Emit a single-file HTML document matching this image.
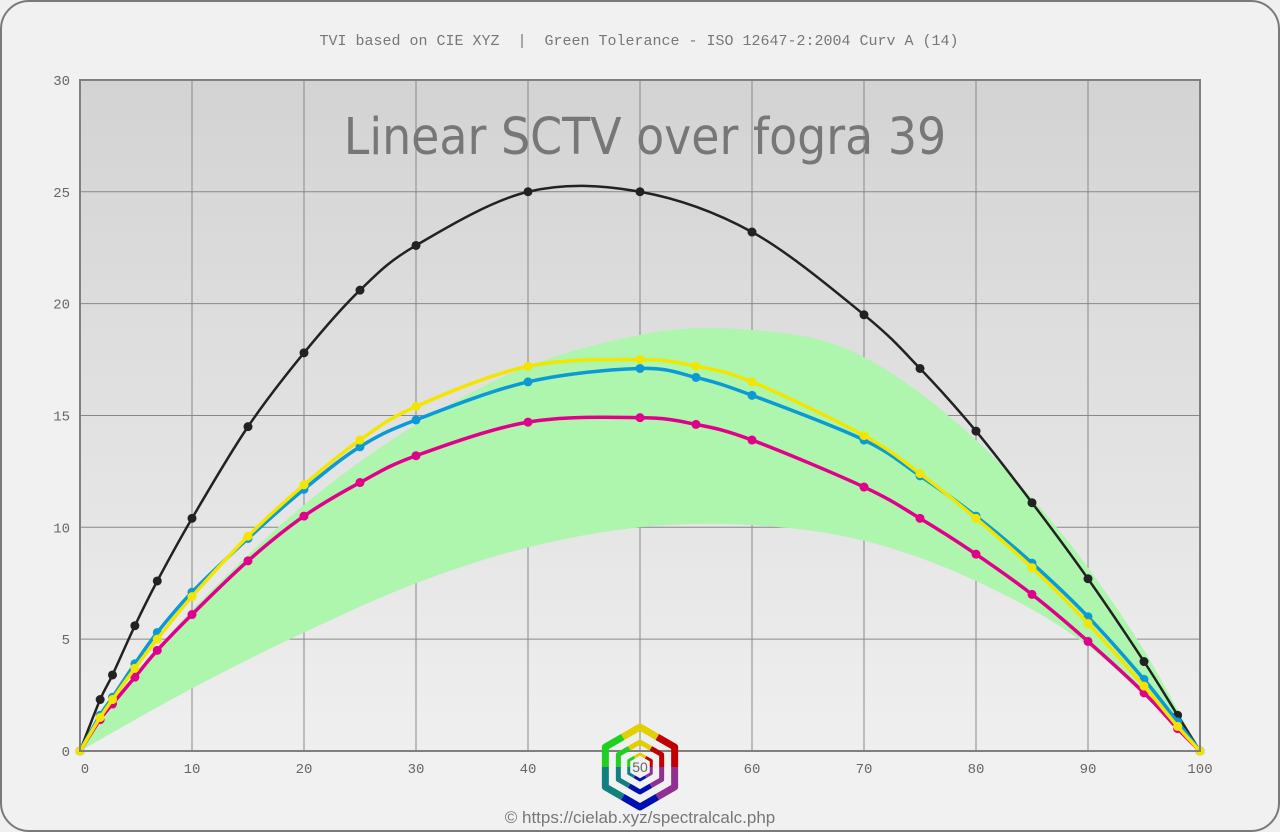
<!DOCTYPE html>
<html><head><meta charset="utf-8"><style>
html,body{margin:0;padding:0;background:#f0f0f0;}
svg{display:block}
</style></head><body>
<svg id="s" width="1280" height="832" xmlns="http://www.w3.org/2000/svg">
<defs>
<linearGradient id="bg" x1="0" y1="0" x2="0" y2="1">
<stop offset="0" stop-color="#d3d3d3"/><stop offset="1" stop-color="#efefef"/>
</linearGradient>
</defs>
<rect x="1" y="1" width="1278" height="830" rx="28" fill="#f1f1f1" stroke="#7a7a7a" stroke-width="2"/>
<text x="639" y="45" text-anchor="middle" font-family="Liberation Mono, monospace" font-size="15" fill="#777" style="white-space:pre" xml:space="preserve">TVI based on CIE XYZ  |  Green Tolerance - ISO 12647-2:2004 Curv A (14)</text>
<rect x="80" y="80" width="1120" height="671" fill="url(#bg)"/>
<g id="grid" stroke="#888" stroke-width="1"></g>
<g id="data"></g>
<rect x="80" y="80" width="1120" height="671" fill="none" stroke="#808080" stroke-width="2"/>
<text x="645" y="154" text-anchor="middle" font-family="DejaVu Sans Condensed, DejaVu Sans, sans-serif" font-size="51" fill="#777">Linear SCTV over fogra 39</text>
<g id="lab" font-family="Liberation Mono, monospace" font-size="14" fill="#666"></g>
<g id="logo" transform="translate(640,767)" fill="none"></g>
<text x="640" y="772" text-anchor="middle" font-family="Liberation Sans, sans-serif" font-size="14" fill="#666">50</text>
<text x="640" y="823" text-anchor="middle" font-family="Liberation Sans, sans-serif" font-size="17" fill="#777">© https://cielab.xyz/spectralcalc.php</text>
</svg>
<script>
const X=v=>80+11.2*v, Y=v=>751-22.37*v;
const NS="http://www.w3.org/2000/svg";
function el(p,t,a){const e=document.createElementNS(NS,t);for(const k in a)e.setAttribute(k,a[k]);p.appendChild(e);return e;}
const g=document.getElementById('grid'),lab=document.getElementById('lab'),d=document.getElementById('data');
for(let i=1;i<10;i++)el(g,'line',{x1:X(i*10),x2:X(i*10),y1:80,y2:751});
for(let i=1;i<6;i++)el(g,'line',{x1:80,x2:1200,y1:Y(i*5),y2:Y(i*5)});
for(let i=0;i<=10;i++){if(i==5)continue;const t=el(lab,'text',{x:X(i*10)+(i==0?5:0),y:773,'text-anchor':'middle'});t.textContent=i*10;}
for(let i=0;i<=6;i++){const t=el(lab,'text',{x:70,y:Y(i*5)+5,'text-anchor':'end'});t.textContent=i*5;}
function path(pts){let s=`M${X(pts[0][0])},${Y(pts[0][1])}`;
for(let i=0;i<pts.length-1;i++){const p0=pts[i-1]||pts[i],p1=pts[i],p2=pts[i+1],p3=pts[i+2]||p2;
const a=[X(p1[0])+(X(p2[0])-X(p0[0]))/6,Y(p1[1])+(Y(p2[1])-Y(p0[1]))/6],b=[X(p2[0])-(X(p3[0])-X(p1[0]))/6,Y(p2[1])-(Y(p3[1])-Y(p1[1]))/6];
s+=`C${a[0]},${a[1]} ${b[0]},${b[1]} ${X(p2[0])},${Y(p2[1])}`;}return s;}
const up=[[0,0],[5,3.3],[10,6.3],[20,11],[30,14.6],[40,17.2],[50,18.6],[57,18.9],[65,18.5],[70,17.6],[75,16],[80,13.9],[85,11.3],[90,8.2],[95,4.5],[100,0]];
const lo=[[0,0],[10,2.8],[20,5.3],[30,7.5],[40,9.1],[50,10],[60,10.1],[70,9.4],[80,7.6],[90,4.7],[100,0]];
el(d,'path',{d:path(up)+' L'+path(lo.slice().reverse()).slice(1),fill:'#aef5ae'});
const xs=[0,1.8,2.9,4.9,6.9,10,15,20,25,30,40,50,60,70,75,80,85,90,95,98,100];
const xs2=[0,1.8,2.9,4.9,6.9,10,15,20,25,30,40,50,55,60,70,75,80,85,90,95,98,100];
const S=[
['#222',2.5,xs,[0,2.3,3.4,5.6,7.6,10.4,14.5,17.8,20.6,22.6,25,25,23.2,19.5,17.1,14.3,11.1,7.7,4,1.6,0]],
['#e0008a',3.5,xs2,[0,1.4,2.1,3.3,4.5,6.1,8.5,10.5,12,13.2,14.7,14.9,14.6,13.9,11.8,10.4,8.8,7,4.9,2.6,1,0]],
['#0b9ad6',3.5,xs2,[0,1.6,2.4,3.9,5.3,7.1,9.5,11.7,13.6,14.8,16.5,17.1,16.7,15.9,13.9,12.3,10.5,8.4,6,3.2,1.3,0]],
['#f2e600',3.5,xs2,[0,1.5,2.3,3.7,5,6.9,9.6,11.9,13.9,15.4,17.2,17.5,17.2,16.5,14.1,12.4,10.4,8.2,5.7,2.9,1.1,0]]];
for(const [c,w,x,v] of S){const pts=x.map((a,i)=>[a,v[i]]);
el(d,'path',{d:path(pts),fill:'none',stroke:c,'stroke-width':w});
pts.forEach(p=>el(d,'circle',{cx:X(p[0]),cy:Y(p[1]),r:4.5,fill:c}));}
const logo=document.getElementById('logo');
const cols=['#e0d000','#c00000','#903090','#0010b0','#108080','#20d020'];
[[40,7],[25,5],[13,3]].forEach(([r,w])=>{
 const V=k=>{const a=(-90+60*k)*Math.PI/180;return [r*Math.cos(a),r*Math.sin(a)];};
 for(let k=0;k<6;k++){const p=V(k),pp=V(k-1),pn=V(k+1);
 const m1=[(p[0]+pp[0])/2,(p[1]+pp[1])/2],m2=[(p[0]+pn[0])/2,(p[1]+pn[1])/2];
 el(logo,'polyline',{points:`${m1} ${p} ${m2}`,stroke:cols[k],'stroke-width':w,'stroke-linejoin':'round'});}});
</script>
</body></html>
